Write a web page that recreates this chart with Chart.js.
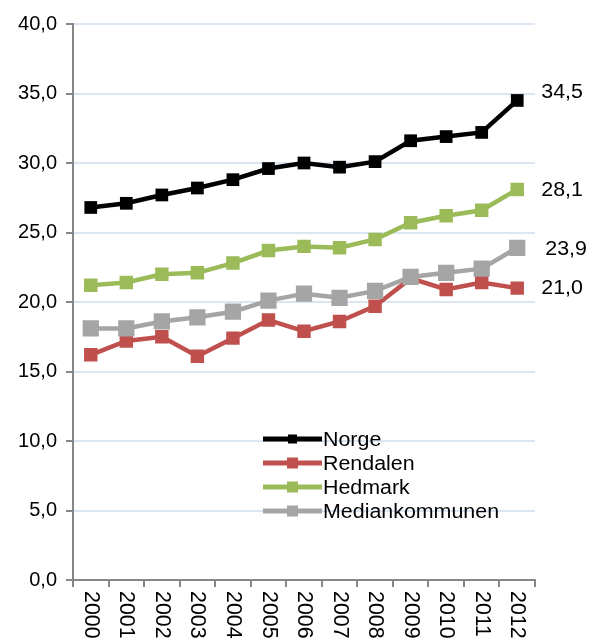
<!DOCTYPE html>
<html>
<head>
<meta charset="utf-8">
<script src="https://cdn.jsdelivr.net/npm/chart.js"></script>
<style>
  html, body { margin: 0; padding: 0; background: #fff; }
  #wrap { width: 612px; height: 639px; position: relative; }
</style>
</head>
<body>
<div id="wrap"><canvas id="chart" width="612" height="639"></canvas></div>
<script>
const years = ['2000', '2001', '2002', '2003', '2004', '2005', '2006', '2007', '2008', '2009', '2010', '2011', '2012'];
const norge = [26.8, 27.1, 27.7, 28.2, 28.8, 29.6, 30.0, 29.7, 30.1, 31.6, 31.9, 32.2, 34.5];
const rendalen = [16.2, 17.2, 17.5, 16.1, 17.4, 18.7, 17.9, 18.6, 19.7, 21.7, 20.9, 21.4, 21.0];
const hedmark = [21.2, 21.4, 22.0, 22.1, 22.8, 23.7, 24.0, 23.9, 24.5, 25.7, 26.2, 26.6, 28.1];
const median = [18.1, 18.1, 18.6, 18.9, 19.3, 20.1, 20.6, 20.3, 20.8, 21.8, 22.1, 22.4, 23.9];
const yTicks = [0, 5, 10, 15, 20, 25, 30, 35, 40];

const FONT = "20px 'Liberation Sans', Arial, sans-serif";
const AXIS = '#868686';
const STRETCH = 1.07;

function fmt(v) {
  return v.toFixed(1).replace('.', ',');
}

function series(label, data, color, radius, order) {
  return {
    label: label,
    data: data,
    borderColor: color,
    backgroundColor: color,
    borderWidth: 4.5,
    pointStyle: 'rect',
    pointRadius: radius,
    pointBorderWidth: 0,
    tension: 0,
    order: order
  };
}

// text slightly widened, like the rest of the lettering
function wideText(ctx, str, x, y) {
  ctx.save();
  ctx.translate(x, y);
  ctx.scale(STRETCH, 1);
  ctx.fillText(str, 0, 0);
  ctx.restore();
}

// labels at the end of each line, legend box and rotated year labels
const extras = {
  id: 'extras',
  afterDatasetsDraw(chart) {
    const ctx = chart.ctx;
    const x = chart.scales.x;
    const y = chart.scales.y;
    const area = chart.chartArea;
    ctx.save();
    ctx.font = FONT;
    ctx.fillStyle = '#000';
    ctx.textAlign = 'left';
    ctx.textBaseline = 'middle';

    // end values
    const lift = [-8, 0, 1, 2];
    chart.data.datasets.forEach((ds, i) => {
      const last = ds.data.length - 1;
      const px = x.getPixelForValue(last) + (i === 3 ? 28 : 24);
      const py = y.getPixelForValue(ds.data[last]) + lift[i];
      wideText(ctx, fmt(ds.data[last]), px, py);
    });

    // legend
    const lx = 263, ly = 439, step = 24, len = 59;
    chart.data.datasets.forEach((ds, i) => {
      const cy = ly + i * step;
      ctx.strokeStyle = ds.borderColor;
      ctx.lineWidth = 5;
      ctx.beginPath();
      ctx.moveTo(lx, cy);
      ctx.lineTo(lx + len, cy);
      ctx.stroke();
      ctx.fillStyle = ds.backgroundColor;
      const s = i === 0 ? 9 : 11;
      ctx.fillRect(lx + len / 2 - s / 2, cy - s / 2, s, s);
      ctx.fillStyle = '#000';
      wideText(ctx, ds.label, lx + len + 1, cy + 1);
    });

    // year labels, rotated clockwise
    years.forEach((yr, i) => {
      ctx.save();
      ctx.translate(x.getPixelForValue(i), area.bottom + 11);
      ctx.rotate(Math.PI / 2);
      ctx.scale(STRETCH, STRETCH);
      ctx.fillText(yr, 0, 0);
      ctx.restore();
    });
    ctx.restore();
  }
};

new Chart(document.getElementById('chart'), {
  type: 'line',
  data: {
    labels: years,
    datasets: [
      series('Norge', norge, '#000000', 9, 4),
      series('Rendalen', rendalen, '#c0504d', 9.5, 3),
      series('Hedmark', hedmark, '#9bbb59', 9.5, 2),
      series('Mediankommunen', median, '#a5a5a5', 11.5, 1)
    ]
  },
  options: {
    responsive: false,
    animation: false,
    events: [],
    layout: { padding: { top: 24, right: 77, left: 0, bottom: 0 } },
    plugins: {
      legend: { display: false },
      tooltip: { enabled: false }
    },
    scales: {
      x: {
        type: 'category',
        offset: true,
        afterFit(scale) { scale.height = 59; },
        grid: {
          offset: true,
          drawOnChartArea: false,
          tickLength: 7,
          tickColor: AXIS,
          lineWidth: 2
        },
        border: { color: AXIS, width: 2 },
        ticks: { display: false }
      },
      y: {
        min: 0,
        max: 40,
        afterFit(scale) { scale.width = 73; },
        afterBuildTicks(scale) { scale.ticks = yTicks.map(v => ({ value: v })); },
        grid: {
          color: '#dce6f2',
          lineWidth: 2,
          tickLength: 7,
          tickColor: AXIS
        },
        border: { color: AXIS, width: 2 },
        ticks: {
          padding: 9,
          color: '#000',
          font: { family: "'Liberation Sans', Arial, sans-serif", size: 20 },
          callback: v => fmt(v)
        }
      }
    }
  },
  plugins: [extras]
});
</script>
</body>
</html>
